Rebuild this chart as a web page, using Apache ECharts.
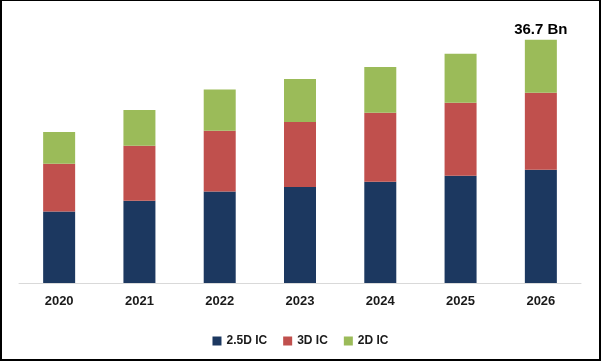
<!DOCTYPE html>
<html>
<head>
<meta charset="utf-8">
<script src="https://cdn.jsdelivr.net/npm/echarts@6/dist/echarts.min.js"></script>
<style>
html,body{margin:0;padding:0;background:#fff;}
#frame{position:absolute;left:0;top:0;width:601px;height:361px;box-sizing:border-box;border-left:2px solid #000;border-top:1px solid #000;border-right:2px solid #000;border-bottom:2px solid #000;}
#chart{position:absolute;left:0;top:0;width:601px;height:361px;}
</style>
</head>
<body>
<div id="chart"></div>
<div id="frame"></div>
<script>
const years = ['2020','2021','2022','2023','2024','2025','2026'];
const ic25 = [10.8, 12.4, 13.8, 14.5, 15.3, 16.2, 17.1];
const ic3d = [7.2, 8.3, 9.2, 9.8, 10.4, 11.0, 11.6];
const ic2d = [4.8, 5.4, 6.2, 6.5, 6.9, 7.4, 8.0];
const seriesNames = ['2.5D IC', '3D IC', '2D IC'];
const totalLabel = '36.7 Bn';
const labelIndex = 6;

const font = 'Liberation Sans, Arial, sans-serif';
const chart = echarts.init(document.getElementById('chart'), null, {renderer:'canvas'});
chart.setOption({
  animation: false,
  backgroundColor: '#fff',
  grid: {left: 19, right: 20, top: 18, bottom: 78},
  xAxis: {
    type: 'category',
    data: years,
    axisLine: {lineStyle: {color: '#D9D9D9', width: 1}},
    axisTick: {show: false},
    axisLabel: {color: '#1a1a1a', fontFamily: font, fontWeight: 'bold', fontSize: 13, margin: 12}
  },
  yAxis: {
    type: 'value', min: 0, max: 40,
    show: false,
    splitLine: {show: false}
  },
  legend: {
    data: seriesNames,
    left: 'center',
    top: 330,
    itemWidth: 9, itemHeight: 9, itemGap: 16,
    icon: 'rect',
    textStyle: {color: '#1a1a1a', fontFamily: font, fontWeight: 'bold', fontSize: 12}
  },
  series: [
    {name: seriesNames[0], type: 'bar', stack: 's', barWidth: 32, data: ic25, itemStyle: {color: '#1C3860'}},
    {name: seriesNames[1], type: 'bar', stack: 's', barWidth: 32, data: ic3d, itemStyle: {color: '#C0504D'}},
    {name: seriesNames[2], type: 'bar', stack: 's', barWidth: 32, data: ic2d, itemStyle: {color: '#9BBB59'},
      label: {
        show: true, position: 'top', distance: 3,
        color: '#000', fontFamily: font, fontWeight: 'bold', fontSize: 15,
        formatter: p => p.dataIndex === labelIndex ? totalLabel : ''
      }
    }
  ]
});
</script>
</body>
</html>
